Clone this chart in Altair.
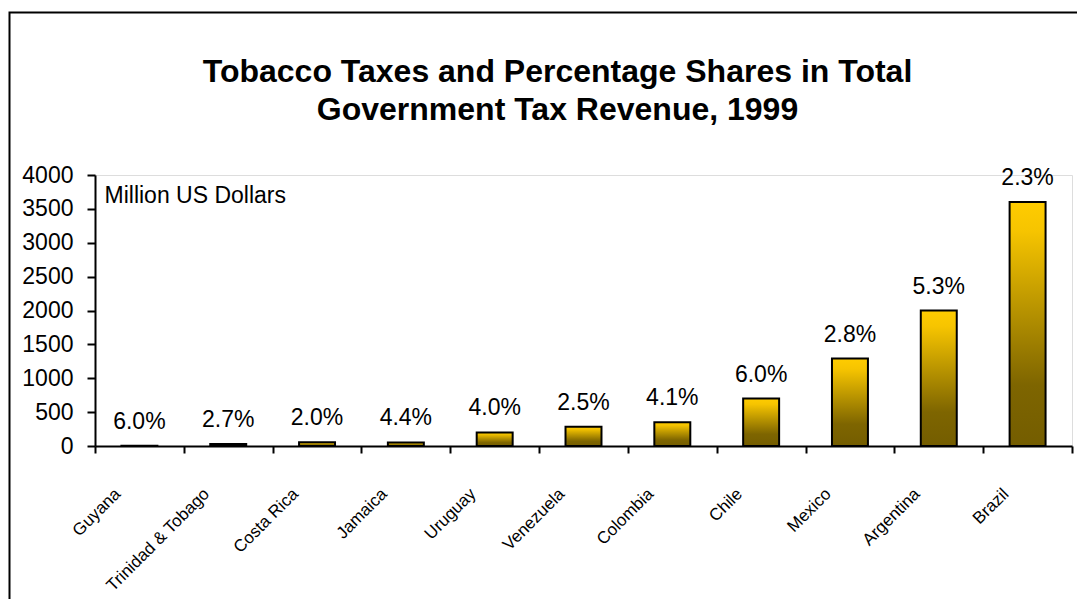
import altair as alt
import pandas as pd

countries = ["Guyana", "Trinidad & Tobago", "Costa Rica", "Jamaica", "Uruguay",
             "Venezuela", "Colombia", "Chile", "Mexico", "Argentina", "Brazil"]
revenue = [2, 28, 55, 52, 200, 285, 350, 700, 1290, 2000, 3600]
shares = ["6.0%", "2.7%", "2.0%", "4.4%", "4.0%", "2.5%", "4.1%", "6.0%", "2.8%", "5.3%", "2.3%"]
y_ticks = [0, 500, 1000, 1500, 2000, 2500, 3000, 3500, 4000]
title_lines = ["Tobacco Taxes and Percentage Shares in Total", "Government Tax Revenue, 1999"]
y_title = "Million US Dollars"

df = pd.DataFrame({"country": countries, "revenue": revenue, "share": shares})
frame_df = pd.DataFrame({"k": [0]})

FONT = "Liberation Sans"
W, H = 977, 271

x_enc = alt.X(
    "country:N", sort=countries,
    scale=alt.Scale(paddingInner=0, paddingOuter=0),
    axis=alt.Axis(
        title=None, labelAngle=-45, labelAlign="right", labelBaseline="middle",
        labelFont=FONT, labelFontSize=17, labelColor="black",
        labelPadding=38, labelOffset=-22, labelOverlap=False, labelLimit=400,
        tickBand="extent", tickSize=7, tickWidth=2, tickColor="black",
        domainColor="black", domainWidth=2, grid=False, zindex=1,
    ),
)
y_enc = alt.Y(
    "revenue:Q",
    scale=alt.Scale(domain=[0, 4000], nice=False),
    axis=alt.Axis(
        values=y_ticks, format="d", title=y_title, titleAngle=0, titleX=9, titleY=27,
        titleAlign="left", titleBaseline="alphabetic", titleFont=FONT,
        titleFontSize=23, titleFontWeight="normal", titleColor="black",
        labelFont=FONT, labelFontSize=23, labelColor="black", labelPadding=14,
        labelOverlap=False,
        tickSize=8, tickWidth=2, tickColor="black",
        domainColor="black", domainWidth=2, grid=False, zindex=1,
    ),
)

gold = alt.Gradient(
    gradient="linear",
    stops=[
        alt.GradientStop(color="#FFCC00", offset=0),
        alt.GradientStop(color="#F6C400", offset=0.12),
        alt.GradientStop(color="#B69200", offset=0.45),
        alt.GradientStop(color="#7E6500", offset=0.75),
        alt.GradientStop(color="#745D00", offset=1),
    ],
    x1=0, x2=0, y1=0, y2=1,
)

border = alt.Chart(frame_df).mark_rect(
    fillOpacity=0, stroke="black", strokeWidth=2
).encode(
    x=alt.value(-85.5), x2=alt.value(1300),
    y=alt.value(-162.5), y2=alt.value(900),
)

bars = alt.Chart(df).mark_bar(
    color=gold, stroke="black", strokeWidth=2,
    width=alt.RelativeBandSize(0.405),
).encode(x=x_enc, y=y_enc)

labels = alt.Chart(df).mark_text(
    font=FONT, fontSize=23, color="black", baseline="alphabetic", dy=-17
).encode(x=x_enc, y=y_enc, text="share:N")

chart = alt.layer(border, bars, labels).properties(
    width=W, height=H,
    autosize=alt.AutoSizeParams(type="none"),
    padding={"left": 87, "top": 167, "right": 5, "bottom": 153},
    title=alt.Title(
        title_lines, font=FONT, fontSize=32, fontWeight="bold", color="black",
        anchor="middle", frame="group", lineHeight=38, dx=-26, offset=0,
        baseline="alphabetic", dy=140,
    ),
).configure_view(stroke=None).configure(background="white")

chart.save("out.html", embed_options={"renderer": "svg", "actions": False})
